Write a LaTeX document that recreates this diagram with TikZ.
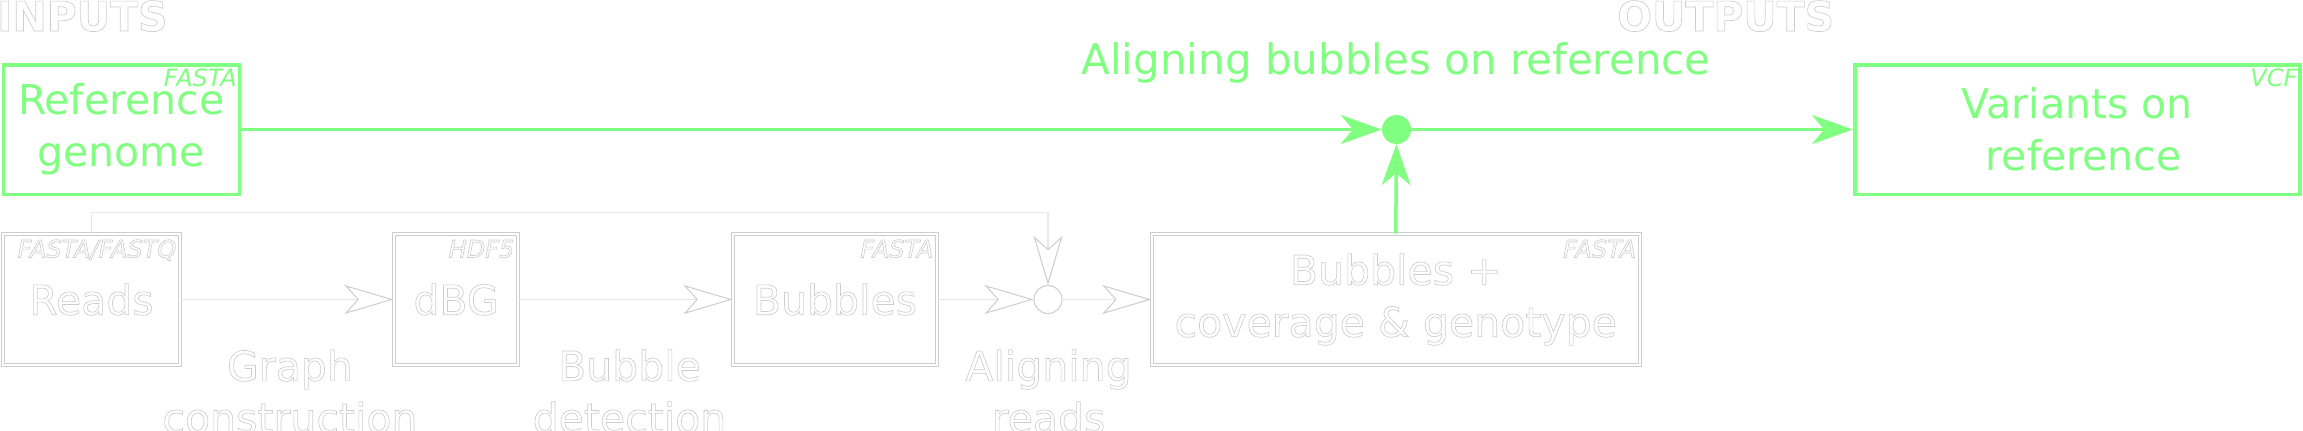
\documentclass[tikz,border=0pt]{standalone}
\usepackage{fontspec}
\setmainfont{DejaVu Sans}
\usepackage{tikz}
\usetikzlibrary{arrows.meta}
\definecolor{vcGreen}{RGB}{128, 255, 128}
\definecolor{vcGhost}{RGB}{205, 205, 205}
\definecolor{vcTrace}{RGB}{232, 232, 232}
% outlined text (white fill, grey stroke) for the greyed-out steps
\newcommand{\ghoston}{\special{pdf:literal direct 2 Tr 1 g 0.804 G 0.65 w}}
\newcommand{\ghostoff}{\special{pdf:literal direct 0 Tr 0.804 g 0.804 G}}
\newcommand{\ghosted}[1]{\ghoston#1\ghostoff}
\tikzset{
    base/.style={
        font=\fontsize{41}{52}\selectfont,
        align=center,
        inner sep=0pt
    },
    stagebox/.style={
        base,
        rectangle,
        draw=vcGhost,
        line width=1pt,
        double=white,
        double distance=2pt,
        text=vcGhost
    },
    livebox/.style={
        base,
        rectangle,
        draw=vcGreen,
        line width=3.5pt,
        text=vcGreen
    },
    format/.style={
        font=\fontsize{24}{28}\selectfont\itshape,
        inner sep=0pt,
        anchor=base east
    },
    caption/.style={
        base,
        anchor=north,
        text=vcGhost
    },
    header/.style={
        font=\fontsize{41}{48}\selectfont\bfseries,
        inner sep=0pt,
        anchor=base west,
        text=vcGhost
    },
    joint/.style={
        circle,
        inner sep=0pt,
        minimum size=29pt
    },
    flow/.style={
        line width=1.2pt,
        draw=vcTrace,
        -{Stealth[length=49pt, width=29pt, inset=13pt, color=vcGhost, fill=white, line width=1pt]}
    },
    hotflow/.style={
        line width=3.5pt,
        draw=vcGreen,
        -{Stealth[length=41pt, width=29pt, inset=12pt]}
    }
}
\begin{document}
\begin{tikzpicture}[x=1pt, y=-1pt]
    \useasboundingbox (0,0) rectangle (2303,431);

    % Headers
    \node[header] (inputs) at (-3,31) {\ghosted{INPUTS}};
    \node[header] (outputs) at (1617,31) {\ghosted{OUTPUTS}};

    % Greyed-out steps
    \node[stagebox, minimum width=177pt, minimum height=131pt] (reads) at (91.5,299.5) {\ghosted{Reads}};
    \node[stagebox, minimum width=124pt, minimum height=131pt] (dbg) at (456,299.5) {\ghosted{dBG}};
    \node[stagebox, minimum width=204pt, minimum height=131pt] (bubbles) at (835,299.5) {\ghosted{Bubbles}};
    \node[stagebox, minimum width=488pt, minimum height=131pt] (bubcov) at (1395.75,299.5) {\ghosted{Bubbles +\\coverage \& genotype}};
    \node[joint, draw=vcGhost, line width=1pt, fill=white, minimum size=28pt] (alignreads) at (1048,299.5) {};

    % Formats
    \node[format, text=vcGhost] (reads-fmt) at ([shift={(-4,24)}]reads.north east) {\ghosted{FASTA/FASTQ}};
    \node[format, text=vcGhost] (dbg-fmt) at ([shift={(-4,24)}]dbg.north east) {\ghosted{HDF5}};
    \node[format, text=vcGhost] (bubbles-fmt) at ([shift={(-4,24)}]bubbles.north east) {\ghosted{FASTA}};
    \node[format, text=vcGhost] (bubcov-fmt) at ([shift={(-4,24)}]bubcov.north east) {\ghosted{FASTA}};

    % Step captions
    \node[caption] (graph-step) at (290,349.5) {\ghosted{Graph\\construction}};
    \node[caption] (detect-step) at (629.5,349.5) {\ghosted{Bubble\\detection}};
    \node[caption] (align-step) at (1048.5,349.5) {\ghosted{Aligning\\reads}};

    % Greyed-out flow
    \draw[flow] (reads) -- (dbg);
    \draw[flow] (dbg) -- (bubbles);
    \draw[flow] (bubbles) -- (alignreads);
    \draw[flow] (alignreads) -- (bubcov);
    \draw[flow] (reads.north) -- ++(0,-21) -| (alignreads.north);

    % Highlighted step
    \node[livebox, minimum width=236pt, minimum height=129.5pt] (refgen) at (121.25,129.5) {Reference\\genome};
    \node[format, text=vcGreen] (refgen-fmt) at ([shift={(-4,23)}]refgen.north east) {FASTA};
    \node[livebox, minimum width=445pt, minimum height=129.5pt] (variants) at (2077.25,129.5) {Variants on\\\hspace*{0.32em}reference};
    \node[format, text=vcGreen] (variants-fmt) at ([shift={(-4,23)}]variants.north east) {VCF};
    \node[joint, fill=vcGreen] (alignbub) at (1396.5,129.5) {};
    \node[base, anchor=base, text=vcGreen, font=\fontsize{42}{52}\selectfont] (alignbub-label) at (1396,74) {Aligning bubbles on reference};

    \draw[hotflow] (refgen) -- (alignbub);
    \draw[hotflow] (alignbub) -- (variants);
    \draw[hotflow] (bubcov.north) -- (alignbub.south);
\end{tikzpicture}
\end{document}
